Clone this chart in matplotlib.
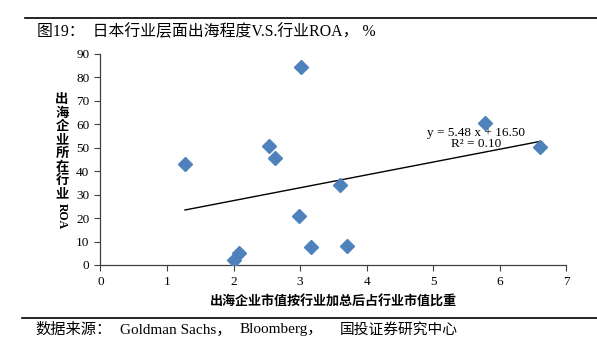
import numpy as np
import matplotlib
matplotlib.use('Agg')
import matplotlib.pyplot as plt
from matplotlib.lines import Line2D

plt.rcParams['font.family'] = ['Liberation Serif', 'Noto Sans CJK SC']

# 出海程度（x）と行業ROA（y）
share = [1.27, 2.53, 2.63, 3.02, 2.98, 3.17, 2.01, 2.08, 3.60, 3.71, 5.78, 6.60]
roa = [43.1, 50.8, 45.6, 84.3, 20.9, 7.5, 2.1, 5.3, 34.0, 8.1, 60.7, 50.5]

# 趋势线（Excel 标注的系数）
slope = 5.48
intercept = 16.50
r2 = 0.10

xticks = [0, 1, 2, 3, 4, 5, 6, 7]
yticks = [0, 10, 20, 30, 40, 50, 60, 70, 80, 90]

title = '图19：  日本行业层面出海程度V.S.行业ROA， %'
xlabel = '出海企业市值按行业加总后占行业市值比重'
ylabel_cjk = '出海企业所在行业'
source_parts = ['数据来源：', 'Goldman Sachs，', 'Bloomberg，', '国投证券研究中心']

W, H = 597, 352
fig = plt.figure(figsize=(W / 100, H / 100), dpi=100)
ax = fig.add_axes([0.1683, 0.2472, 0.780, 0.5994])

ax.plot(share, roa, linestyle='none', marker='D', markersize=7,
        color='#4F81BD', zorder=3)

# 趋势线
xs = np.array([min(share), max(share)])
ax.plot(xs, slope * xs + intercept, color='black', linewidth=1, zorder=2)
ax.text(5.65, 54, 'y = %.2f x + %.2f\nR² = %.2f' % (slope, intercept, r2),
        ha='center', va='center', fontsize=9.5, linespacing=0.9)

ax.set_xlim(0, 7)
ax.set_ylim(0, 90)
ax.set_xticks(xticks)
ax.set_yticks(yticks)
ax.tick_params(labelsize=9.5, length=4, width=0.8, color='#404040', pad=4)
for s in ['top', 'right']:
    ax.spines[s].set_visible(False)
for s in ['left', 'bottom']:
    ax.spines[s].set_color('#404040')
    ax.spines[s].set_linewidth(0.9)

ax.set_xlabel(xlabel, family=['Noto Sans CJK SC'], fontsize=9.4,
              fontweight='bold', labelpad=5)

# 纵轴标题：汉字竖排，ROA 旋转
for i, ch in enumerate(ylabel_cjk):
    fig.text(62 / W, 1 - (99 + 13.5 * i) / H, ch, family=['Noto Sans CJK SC'],
             fontsize=9.6, fontweight='bold', ha='center', va='center')
fig.text(62 / W, 1 - 216 / H, 'ROA', fontsize=8.5, fontweight='bold',
         rotation=-90, ha='center', va='center')

# 标题和来源
fig.text(37 / W, 1 - 32 / H, title, fontsize=11.4, ha='left', va='center')
for txt, x0, fs in zip(source_parts, [35, 120, 240, 340], [11, 11, 11, 10.6]):
    fig.text(x0 / W, 1 - 330 / H, txt, fontsize=fs, ha='left', va='center')

fig.add_artist(Line2D([25 / W, 1.0], [1 - 18 / H] * 2, color='black', linewidth=1.2))
fig.add_artist(Line2D([22 / W, 1.0], [1 - 318 / H] * 2, color='black', linewidth=1.2))

fig.savefig('out.png', dpi=100)
